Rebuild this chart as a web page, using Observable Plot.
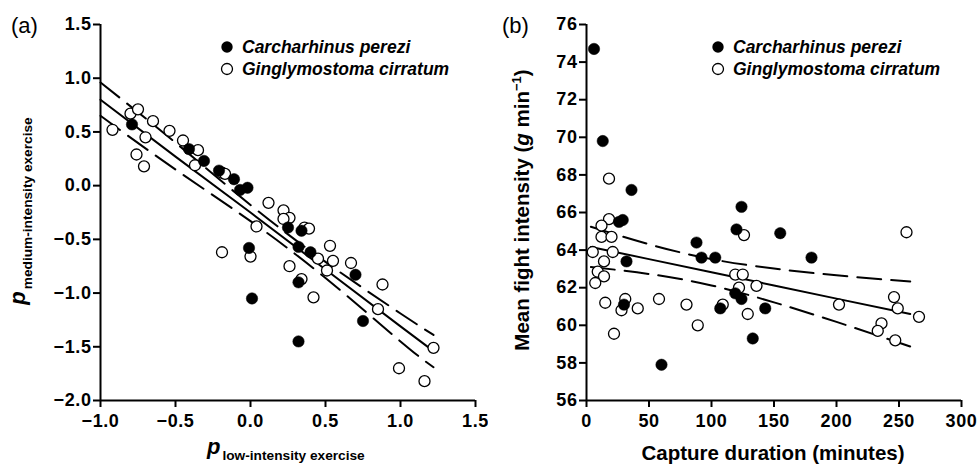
<!DOCTYPE html>
<html><head><meta charset="utf-8">
<script src="https://cdn.jsdelivr.net/npm/d3@7"></script>
<script src="https://cdn.jsdelivr.net/npm/@observablehq/plot@0.6"></script>
<style>
body{margin:0;background:#fff;}
#wrap{display:flex;width:977px;height:465px;overflow:hidden;}
</style></head><body><div id="wrap"></div>
<script>
const speciesNames = ["Carcharhinus perezi", "Ginglymostoma cirratum"];
const panelLabels = ["(a)", "(b)"];

// Panel (a): p low-intensity vs p medium-intensity
const aPerezi = [[-0.79,0.57],[-0.41,0.34],[-0.31,0.23],[-0.21,0.14],[-0.11,0.06],[-0.07,-0.04],[-0.02,-0.02],[-0.01,-0.58],[0.01,-1.05],[0.25,-0.39],[0.34,-0.42],[0.32,-0.57],[0.40,-0.62],[0.32,-0.90],[0.32,-1.45],[0.70,-0.83],[0.75,-1.26]];
const aCirratum = [[-0.92,0.52],[-0.80,0.67],[-0.75,0.71],[-0.65,0.60],[-0.70,0.45],[-0.76,0.29],[-0.71,0.18],[-0.54,0.51],[-0.45,0.42],[-0.35,0.33],[-0.37,0.19],[-0.19,0.12],[-0.17,0.11],[0.12,-0.16],[0.22,-0.23],[0.26,-0.30],[0.22,-0.31],[0.04,-0.38],[0.36,-0.39],[0.39,-0.40],[-0.19,-0.62],[0.0,-0.66],[0.26,-0.75],[0.53,-0.56],[0.45,-0.68],[0.55,-0.70],[0.51,-0.79],[0.67,-0.72],[0.34,-0.87],[0.42,-1.04],[0.88,-0.92],[0.85,-1.15],[1.22,-1.51],[0.99,-1.70],[1.16,-1.82]];
const aLineX = [-1.0, -0.5, 0, 0.5, 1.0, 1.22];
const aFit = [0.80, 0.27, -0.25, -0.78, -1.31, -1.54];
const aUpper = [0.96, 0.40, -0.18, -0.71, -1.19, -1.39];
const aLower = [0.65, 0.15, -0.33, -0.86, -1.45, -1.69];
const aXTicks = [-1.0, -0.5, 0.0, 0.5, 1.0, 1.5];
const aYTicks = [-2.0, -1.5, -1.0, -0.5, 0.0, 0.5, 1.0, 1.5];

// Panel (b): capture duration vs mean fight intensity
const bPerezi = [[6,74.7],[13,69.8],[36,67.2],[26,65.5],[29,65.6],[32,63.4],[30,61.1],[60,57.9],[88,64.4],[92,63.6],[103,63.6],[107,60.9],[120,65.1],[124,66.3],[155,64.9],[180,63.6],[119,61.7],[124,61.4],[143,60.9],[133,59.3]];
const bCirratum = [[18,67.8],[18,65.65],[12,65.3],[12,64.7],[20,64.7],[5,63.9],[21,63.9],[14,63.4],[9,62.85],[14,62.6],[7,62.25],[15,61.2],[28,60.8],[31,61.4],[41,60.9],[22,59.55],[58,61.4],[80,61.1],[89,60.0],[109,61.1],[126,64.8],[256,64.95],[119,62.7],[125,62.7],[122,62.0],[136,62.1],[129,60.6],[202,61.1],[246,61.5],[249,60.9],[266,60.45],[236,60.1],[233,59.7],[247,59.2]];
const bLineX = [3.5, 50, 100, 150, 200, 259];
const bFit = [64.17, 63.52, 62.82, 62.12, 61.42, 60.60];
const bUpper = [65.24, 64.31, 63.52, 63.02, 62.66, 62.33];
const bLower = [63.10, 62.73, 62.12, 61.22, 60.18, 58.87];
const bXTicks = [0, 50, 100, 150, 200, 250, 300];
const bYTicks = [56, 58, 60, 62, 64, 66, 68, 70, 72, 74, 76];

const FONT = '"Liberation Sans", Arial, Helvetica, sans-serif';
const zip = (xs, ys) => xs.map((x, i) => ({x, y: ys[i]}));

function panel(o) {
  const svg = Plot.plot({
    width: o.width, height: 465,
    marginLeft: o.marginLeft, marginRight: o.marginRight, marginTop: 24, marginBottom: 65,
    style: {fontFamily: FONT, fontSize: "18px", fontWeight: "bold", color: "#000", background: "#fff", overflow: "visible", letterSpacing: "0.6px"},
    x: {domain: o.xDomain},
    y: {domain: o.yDomain},
    marks: [
      Plot.axisX({ticks: o.xTicks, tickFormat: o.xFmt, tickSize: 7, tickPadding: 7, strokeWidth: 2, label: null, fontSize: 18}),
      Plot.axisY({ticks: o.yTicks, tickFormat: o.yFmt, tickSize: 7, tickPadding: 2, strokeWidth: 2, label: null, fontSize: 18}),
      Plot.ruleX([o.xDomain[0]], {strokeWidth: 2}),
      Plot.ruleY([o.yDomain[0]], {strokeWidth: 2}),
      Plot.line(zip(o.lineX, o.fit), {x: "x", y: "y", stroke: "#000", strokeWidth: 2}),
      Plot.line(zip(o.lineX, o.upper), {x: "x", y: "y", stroke: "#000", strokeWidth: 2, strokeDasharray: "24,10", curve: "natural"}),
      Plot.line(zip(o.lineX, o.lower), {x: "x", y: "y", stroke: "#000", strokeWidth: 2, strokeDasharray: "24,10", curve: "natural"}),
      Plot.dot(o.open, {x: d => d[0], y: d => d[1], r: 5.5, fill: "#fff", stroke: "#000", strokeWidth: 1.3}),
      Plot.dot(o.filled, {x: d => d[0], y: d => d[1], r: 5.7, fill: "#000", stroke: "#000", strokeWidth: 0.5})
    ]
  });
  const s = d3.select(svg);
  // panel letter
  s.append("text").attr("x", o.letterX).attr("y", 33).attr("text-anchor", "start").attr("font-size", 22)
    .attr("font-weight", "normal").attr("letter-spacing", 0).attr("font-family", FONT).text(o.letter);
  // legend
  const lg = s.append("g").attr("font-family", FONT).attr("text-anchor", "start").attr("letter-spacing", 0);
  lg.append("circle").attr("cx", o.legX).attr("cy", 47).attr("r", 5.7).attr("fill", "#000");
  lg.append("circle").attr("cx", o.legX).attr("cy", 69).attr("r", 5.5).attr("fill", "#fff").attr("stroke", "#000").attr("stroke-width", 1.3);
  lg.append("text").attr("x", o.legX + 15).attr("y", 53).attr("font-size", 17.5).attr("font-weight", "bold").attr("font-style", "italic").text(speciesNames[0]);
  lg.append("text").attr("x", o.legX + 15).attr("y", 75).attr("font-size", 17.5).attr("font-weight", "bold").attr("font-style", "italic").text(speciesNames[1]);
  o.labels(s);
  return svg;
}

const f1 = d3.format(".1f");
const svgA = panel({
  width: 488, marginLeft: 100, marginRight: 13,
  xDomain: [-1.0, 1.5], yDomain: [-2.0, 1.5], xTicks: aXTicks, yTicks: aYTicks, xFmt: f1, yFmt: f1,
  lineX: aLineX, fit: aFit, upper: aUpper, lower: aLower, open: aCirratum, filled: aPerezi,
  letter: panelLabels[0], letterX: 11, legX: 227,
  labels: s => {
    const tx = s.append("text").attr("x", 207).attr("y", 454).attr("text-anchor", "start").attr("letter-spacing", 0)
      .attr("font-family", FONT).attr("font-weight", "bold");
    tx.append("tspan").attr("font-size", 22).attr("font-style", "italic").text("p");
    tx.append("tspan").attr("font-size", 13.7).attr("dy", 6).attr("dx", 2).text("low-intensity exercise");
    const ty = s.append("text").attr("transform", "translate(25,211) rotate(-90)").attr("text-anchor", "middle")
      .attr("letter-spacing", 0).attr("font-family", FONT).attr("font-weight", "bold");
    ty.append("tspan").attr("font-size", 22).attr("font-style", "italic").text("p");
    ty.append("tspan").attr("font-size", 13.7).attr("dy", 7).attr("dx", 2).text("medium-intensity exercise");
  }
});
const svgB = panel({
  width: 489, marginLeft: 98, marginRight: 16,
  xDomain: [0, 300], yDomain: [56, 76], xTicks: bXTicks, yTicks: bYTicks, xFmt: d3.format("d"), yFmt: d3.format("d"),
  lineX: bLineX, fit: bFit, upper: bUpper, lower: bLower, open: bCirratum, filled: bPerezi,
  letter: panelLabels[1], letterX: 14, legX: 230,
  labels: s => {
    s.append("text").attr("x", 285).attr("y", 460).attr("text-anchor", "middle").attr("letter-spacing", 0).attr("font-family", FONT)
      .attr("font-weight", "bold").attr("font-size", 20.5).text("Capture duration (minutes)");
    const ty = s.append("text").attr("transform", "translate(41,210) rotate(-90)").attr("text-anchor", "middle")
      .attr("letter-spacing", 0).attr("font-family", FONT).attr("font-weight", "bold").attr("font-size", 20.5);
    ty.append("tspan").text("Mean fight intensity (");
    ty.append("tspan").attr("font-style", "italic").text("g");
    ty.append("tspan").text(" min");
    ty.append("tspan").attr("font-size", 13).attr("dy", -8).text("\u22121");
    ty.append("tspan").attr("dy", 8).text(")");
  }
});
document.getElementById("wrap").append(svgA, svgB);
</script></body></html>
